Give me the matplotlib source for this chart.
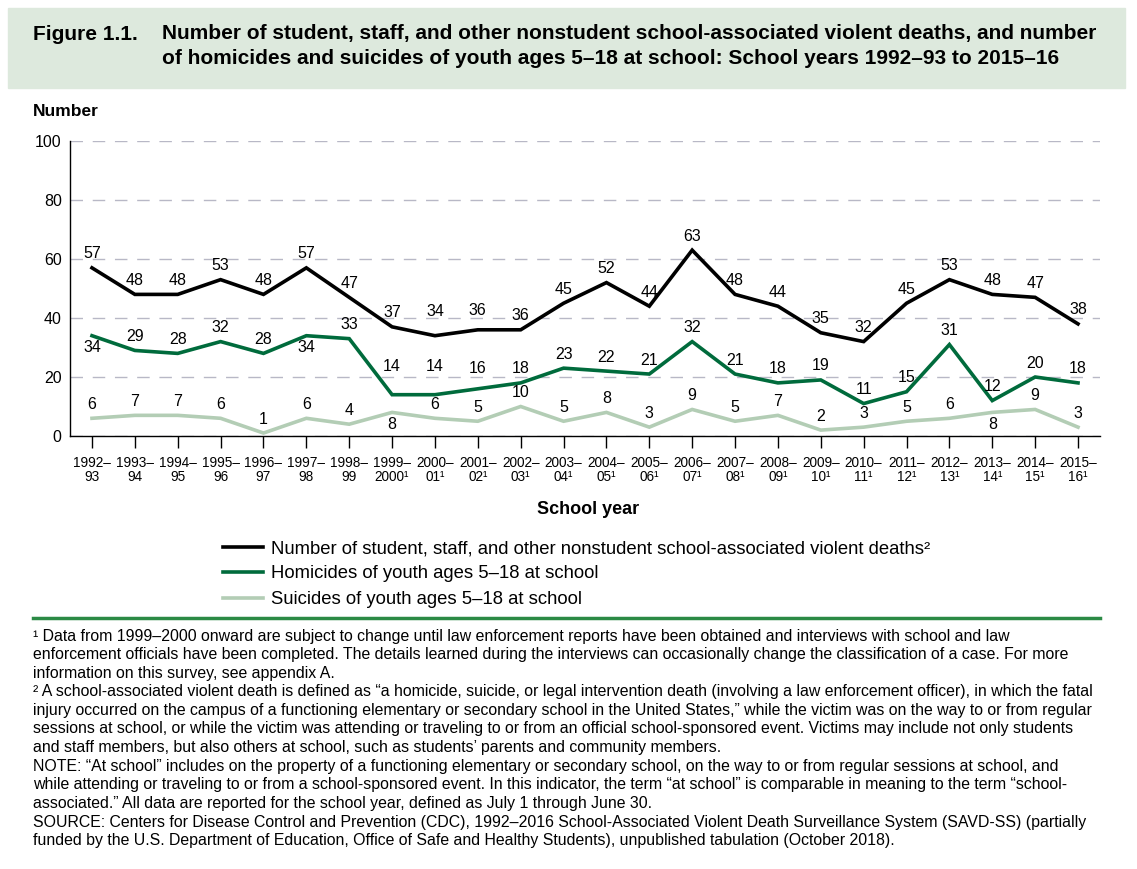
import matplotlib
matplotlib.use("Agg")
import matplotlib.pyplot as plt
from matplotlib.patches import Rectangle
from matplotlib.lines import Line2D

plt.rcParams['font.family'] = ['Liberation Sans', 'DejaVu Sans']

# Data
years = list(range(1992, 2016))
total_deaths = [57, 48, 48, 53, 48, 57, 47, 37, 34, 36, 36, 45, 52, 44, 63, 48, 44, 35, 32, 45, 53, 48, 47, 38]
homicides = [34, 29, 28, 32, 28, 34, 33, 14, 14, 16, 18, 23, 22, 21, 32, 21, 18, 19, 11, 15, 31, 12, 20, 18]
suicides = [6, 7, 7, 6, 1, 6, 4, 8, 6, 5, 10, 5, 8, 3, 9, 5, 7, 2, 3, 5, 6, 8, 9, 3]

series_names = [
    "Number of student, staff, and other nonstudent school-associated violent deaths²",
    "Homicides of youth ages 5–18 at school",
    "Suicides of youth ages 5–18 at school",
]


def year_label(y):
    nxt = "2000" if y == 1999 else f"{(y + 1) % 100:02d}"
    sup = "¹" if y >= 1999 else ""
    return f"{y}–\n{nxt}{sup}"


tick_labels = [year_label(y) for y in years]

# label nudges (pixels, vertical offset of label centre); default is 14 above
nudge_total = {8: 24, 9: 19}
nudge_hom = {0: -12, 5: -12, 7: 28, 8: 28, 9: 20}
nudge_sui = {7: -12, 21: -12}

W, H = 1137, 869
fig = plt.figure(figsize=(W / 100, H / 100), dpi=100)
fig.patch.set_facecolor('white')

# title box
fig.patches.append(Rectangle((8 / W, 1 - 88 / H), (1125 - 8) / W, 80 / H,
                             transform=fig.transFigure, color='#dde9dd', zorder=0))
fig.text(33 / W, 1 - 34 / H, "Figure 1.1.", fontsize=15.05, fontweight='bold', va='center')
fig.text(162 / W, 1 - 34 / H,
         "Number of student, staff, and other nonstudent school-associated violent deaths, and number",
         fontsize=15.05, fontweight='bold', va='center')
fig.text(162 / W, 1 - 59 / H,
         "of homicides and suicides of youth ages 5–18 at school: School years 1992–93 to 2015–16",
         fontsize=15.05, fontweight='bold', va='center')

ax = fig.add_axes([70 / W, 433 / H, 1030 / W, 295 / H])
x = list(range(len(years)))

colors = ['#000000', '#006b3c', '#b3cdb5']
data = [total_deaths, homicides, suicides]
nudges = [nudge_total, nudge_hom, nudge_sui]
for vals, c, name, nd in zip(data, colors, series_names, nudges):
    ax.plot(x, vals, color=c, lw=2.6, label=name, solid_joinstyle='miter', zorder=3)
    for i, v in enumerate(vals):
        off = nd.get(i, 14) * 0.72
        ax.annotate(str(v), (i, v), xytext=(0, off), textcoords='offset points',
                    ha='center', va='center', fontsize=11.5, zorder=4)

ax.set_xlim(-0.513, len(years) - 1 + 0.513)
ax.set_ylim(0, 100)
ax.set_yticks([0, 20, 40, 60, 80, 100])
ax.set_xticks(x)
ax.set_xticklabels(tick_labels, fontsize=9.8, linespacing=1.0)
ax.tick_params(axis='y', length=0, pad=6, labelsize=11.5)
ax.tick_params(axis='x', direction='out', length=8.5, width=1, pad=6)
for s in ['top', 'right']:
    ax.spines[s].set_visible(False)
for s in ['left', 'bottom']:
    ax.spines[s].set_linewidth(1)
ax.yaxis.grid(True, color='#b8b8c6', lw=1, dashes=(9, 7))
ax.set_axisbelow(True)

fig.text(33 / W, 1 - 111 / H, "Number", fontsize=12.5, fontweight='bold', va='center')
fig.text(588 / W, 1 - 510 / H, "School year", fontsize=13, fontweight='bold', va='center', ha='center')

# legend
fig.legend(loc='upper left', bbox_to_anchor=(223 / W, 1 - 540 / H), frameon=False,
           fontsize=13.3, handlelength=2.16, handletextpad=0.43, labelspacing=0.46,
           borderaxespad=0, borderpad=0)

# rule
fig.add_artist(Line2D([33 / W, 1100 / W], [1 - 618 / H] * 2, color='#2b8a45', lw=2.5,
                      transform=fig.transFigure))

notes = [
    "¹ Data from 1999–2000 onward are subject to change until law enforcement reports have been obtained and interviews with school and law",
    "enforcement officials have been completed. The details learned during the interviews can occasionally change the classification of a case. For more",
    "information on this survey, see appendix A.",
    "² A school-associated violent death is defined as “a homicide, suicide, or legal intervention death (involving a law enforcement officer), in which the fatal",
    "injury occurred on the campus of a functioning elementary or secondary school in the United States,” while the victim was on the way to or from regular",
    "sessions at school, or while the victim was attending or traveling to or from an official school-sponsored event. Victims may include not only students",
    "and staff members, but also others at school, such as students’ parents and community members.",
    "NOTE: “At school” includes on the property of a functioning elementary or secondary school, on the way to or from regular sessions at school, and",
    "while attending or traveling to or from a school-sponsored event. In this indicator, the term “at school” is comparable in meaning to the term “school-",
    "associated.” All data are reported for the school year, defined as July 1 through June 30.",
    "SOURCE: Centers for Disease Control and Prevention (CDC), 1992–2016 School-Associated Violent Death Surveillance System (SAVD-SS) (partially",
    "funded by the U.S. Department of Education, Office of Safe and Healthy Students), unpublished tabulation (October 2018).",
]
for k, line in enumerate(notes):
    fig.text(33 / W, 1 - (636 + k * 18.6) / H, line, fontsize=11.42, va='center')

fig.savefig("out.png", dpi=100)
